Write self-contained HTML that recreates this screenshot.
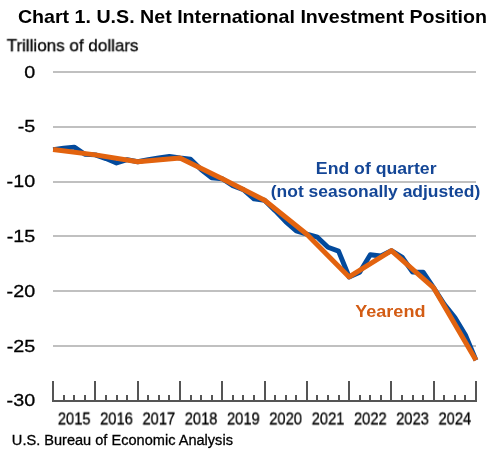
<!DOCTYPE html>
<html><head><meta charset="utf-8"><style>
html,body{margin:0;padding:0;background:#fff;}
body{width:504px;height:457px;position:relative;overflow:hidden;}
.t{position:absolute;left:0;top:0;white-space:nowrap;line-height:1;font-family:"Liberation Sans",sans-serif;transform-origin:0 0;will-change:transform;}
svg{position:absolute;left:0;top:0;}
</style></head><body>
<svg width="504" height="457" viewBox="0 0 504 457">
<rect x="53" y="71" width="423" height="2" fill="#c0c0c0"/>
<rect x="53" y="126" width="423" height="2" fill="#c0c0c0"/>
<rect x="53" y="181" width="423" height="2" fill="#c0c0c0"/>
<rect x="53" y="235" width="423" height="2" fill="#c0c0c0"/>
<rect x="53" y="290" width="423" height="2" fill="#c0c0c0"/>
<rect x="53" y="345" width="423" height="2" fill="#c0c0c0"/>
<rect x="52" y="400" width="425" height="2" fill="#555555"/>
<rect x="52" y="381" width="2" height="21" fill="#555555"/>
<rect x="63" y="395" width="2" height="7" fill="#555555"/>
<rect x="73" y="395" width="2" height="7" fill="#555555"/>
<rect x="84" y="395" width="2" height="7" fill="#555555"/>
<rect x="94" y="381" width="2" height="21" fill="#555555"/>
<rect x="105" y="395" width="2" height="7" fill="#555555"/>
<rect x="116" y="395" width="2" height="7" fill="#555555"/>
<rect x="126" y="395" width="2" height="7" fill="#555555"/>
<rect x="137" y="381" width="2" height="21" fill="#555555"/>
<rect x="147" y="395" width="2" height="7" fill="#555555"/>
<rect x="158" y="395" width="2" height="7" fill="#555555"/>
<rect x="168" y="395" width="2" height="7" fill="#555555"/>
<rect x="179" y="381" width="2" height="21" fill="#555555"/>
<rect x="190" y="395" width="2" height="7" fill="#555555"/>
<rect x="200" y="395" width="2" height="7" fill="#555555"/>
<rect x="211" y="395" width="2" height="7" fill="#555555"/>
<rect x="221" y="381" width="2" height="21" fill="#555555"/>
<rect x="232" y="395" width="2" height="7" fill="#555555"/>
<rect x="242" y="395" width="2" height="7" fill="#555555"/>
<rect x="253" y="395" width="2" height="7" fill="#555555"/>
<rect x="264" y="381" width="2" height="21" fill="#555555"/>
<rect x="274" y="395" width="2" height="7" fill="#555555"/>
<rect x="285" y="395" width="2" height="7" fill="#555555"/>
<rect x="295" y="395" width="2" height="7" fill="#555555"/>
<rect x="306" y="381" width="2" height="21" fill="#555555"/>
<rect x="316" y="395" width="2" height="7" fill="#555555"/>
<rect x="327" y="395" width="2" height="7" fill="#555555"/>
<rect x="338" y="395" width="2" height="7" fill="#555555"/>
<rect x="348" y="381" width="2" height="21" fill="#555555"/>
<rect x="359" y="395" width="2" height="7" fill="#555555"/>
<rect x="369" y="395" width="2" height="7" fill="#555555"/>
<rect x="380" y="395" width="2" height="7" fill="#555555"/>
<rect x="390" y="381" width="2" height="21" fill="#555555"/>
<rect x="401" y="395" width="2" height="7" fill="#555555"/>
<rect x="412" y="395" width="2" height="7" fill="#555555"/>
<rect x="422" y="395" width="2" height="7" fill="#555555"/>
<rect x="433" y="381" width="2" height="21" fill="#555555"/>
<rect x="443" y="395" width="2" height="7" fill="#555555"/>
<rect x="454" y="395" width="2" height="7" fill="#555555"/>
<rect x="464" y="395" width="2" height="7" fill="#555555"/>
<rect x="475" y="381" width="2" height="21" fill="#555555"/>
<polyline points="53.10,149.60 63.67,148.17 74.25,147.08 84.82,154.20 95.39,154.86 105.96,158.58 116.53,162.97 127.11,159.68 137.68,161.76 148.25,159.68 158.82,158.04 169.40,156.39 179.97,158.04 190.54,159.13 201.11,169.54 211.69,177.76 222.26,178.75 232.83,185.76 243.41,189.60 253.98,198.81 264.55,200.23 275.12,210.64 285.69,221.60 296.27,230.92 306.84,234.21 317.41,237.17 327.99,247.25 338.56,251.09 349.13,276.95 359.70,272.35 370.28,254.70 380.85,256.02 391.42,250.65 401.99,257.00 412.56,272.02 423.14,272.24 433.71,287.91 444.28,304.35 454.86,317.50 465.43,335.04 476.00,360.25" fill="none" stroke="#034a9c" stroke-width="4.9" stroke-linejoin="round"/>
<polyline points="53.10,149.60 95.39,154.86 137.68,161.76 179.97,158.04 222.26,178.75 264.55,200.23 306.84,234.21 349.13,276.95 391.42,250.65 433.71,287.91 476.00,360.25" fill="none" stroke="#e2630f" stroke-width="5.0" stroke-linejoin="round"/>
</svg>
<div class="t" style="font-size:18.841px;font-weight:bold;color:#000;transform:translate(17.894px,7.986px) scaleX(1.04262)">Chart 1. U.S. Net International Investment Position</div>
<div class="t" style="font-size:17.391px;font-weight:normal;color:#000;transform:translate(6.647px,37.217px) scaleX(0.98037);-webkit-text-stroke:0.3px #000">Trillions of dollars</div>
<div class="t" style="font-size:14.493px;font-weight:normal;color:#000;transform:translate(11.859px,432.681px) scaleX(1.00578);-webkit-text-stroke:0.3px #000">U.S. Bureau of Economic Analysis</div>
<div class="t" style="font-size:17.391px;font-weight:bold;color:#144696;transform:translate(315.847px,160.217px) scaleX(1.01641)">End of quarter</div>
<div class="t" style="font-size:17.391px;font-weight:bold;color:#144696;transform:translate(270.812px,183.217px) scaleX(1.00412)">(not seasonally adjusted)</div>
<div class="t" style="font-size:17.391px;font-weight:bold;color:#d35c14;transform:translate(355.255px,303.217px) scaleX(1.03813)">Yearend</div>
<div class="t" style="font-size:17.391px;font-weight:normal;color:#000;transform:translate(24.127px,63.617px) scaleX(1.13532);-webkit-text-stroke:0.3px #000">0</div>
<div class="t" style="font-size:17.391px;font-weight:normal;color:#000;transform:translate(17.676px,118.417px) scaleX(1.13532);-webkit-text-stroke:0.3px #000">-5</div>
<div class="t" style="font-size:17.391px;font-weight:normal;color:#000;transform:translate(6.614px,173.217px) scaleX(1.13532);-webkit-text-stroke:0.3px #000">-10</div>
<div class="t" style="font-size:17.391px;font-weight:normal;color:#000;transform:translate(6.676px,228.017px) scaleX(1.13532);-webkit-text-stroke:0.3px #000">-15</div>
<div class="t" style="font-size:17.391px;font-weight:normal;color:#000;transform:translate(6.614px,282.817px) scaleX(1.13532);-webkit-text-stroke:0.3px #000">-20</div>
<div class="t" style="font-size:17.391px;font-weight:normal;color:#000;transform:translate(6.676px,337.617px) scaleX(1.13532);-webkit-text-stroke:0.3px #000">-25</div>
<div class="t" style="font-size:17.391px;font-weight:normal;color:#000;transform:translate(6.614px,392.417px) scaleX(1.13532);-webkit-text-stroke:0.3px #000">-30</div>
<div class="t" style="font-size:15.942px;font-weight:normal;color:#000;transform:translate(57.857px,411.449px) scaleX(0.92317);-webkit-text-stroke:0.3px #000">2015</div>
<div class="t" style="font-size:15.942px;font-weight:normal;color:#000;transform:translate(100.149px,411.449px) scaleX(0.92317);-webkit-text-stroke:0.3px #000">2016</div>
<div class="t" style="font-size:15.942px;font-weight:normal;color:#000;transform:translate(142.472px,411.449px) scaleX(0.92317);-webkit-text-stroke:0.3px #000">2017</div>
<div class="t" style="font-size:15.942px;font-weight:normal;color:#000;transform:translate(184.735px,411.449px) scaleX(0.92317);-webkit-text-stroke:0.3px #000">2018</div>
<div class="t" style="font-size:15.942px;font-weight:normal;color:#000;transform:translate(227.025px,411.449px) scaleX(0.92317);-webkit-text-stroke:0.3px #000">2019</div>
<div class="t" style="font-size:15.942px;font-weight:normal;color:#000;transform:translate(269.273px,411.449px) scaleX(0.92317);-webkit-text-stroke:0.3px #000">2020</div>
<div class="t" style="font-size:15.942px;font-weight:normal;color:#000;transform:translate(311.705px,411.449px) scaleX(0.92317);-webkit-text-stroke:0.3px #000">2021</div>
<div class="t" style="font-size:15.942px;font-weight:normal;color:#000;transform:translate(353.993px,411.449px) scaleX(0.92317);-webkit-text-stroke:0.3px #000">2022</div>
<div class="t" style="font-size:15.942px;font-weight:normal;color:#000;transform:translate(396.189px,411.449px) scaleX(0.92317);-webkit-text-stroke:0.3px #000">2023</div>
<div class="t" style="font-size:15.942px;font-weight:normal;color:#000;transform:translate(438.482px,411.449px) scaleX(0.92317);-webkit-text-stroke:0.3px #000">2024</div>
</body></html>
